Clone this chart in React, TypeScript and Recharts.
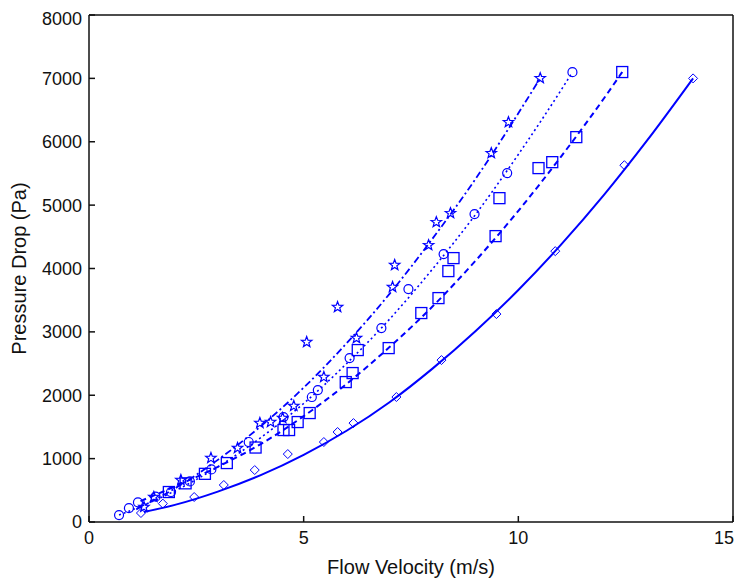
import React from "react";
import {
  ComposedChart,
  Line,
  Scatter,
  XAxis,
  YAxis,
} from "recharts";

// measured points (flow velocity m/s, pressure drop Pa)
const diamondPts = [
  { x: 1.21, y: 142 }, { x: 1.72, y: 290 }, { x: 2.45, y: 394 }, { x: 3.14, y: 584 },
  { x: 3.86, y: 820 }, { x: 4.63, y: 1072 }, { x: 5.47, y: 1262 }, { x: 5.79, y: 1420 },
  { x: 6.16, y: 1561 }, { x: 7.16, y: 1972 }, { x: 8.21, y: 2555 }, { x: 9.49, y: 3281 },
  { x: 10.86, y: 4274 }, { x: 12.47, y: 5630 }, { x: 14.07, y: 7000 },
];
const squarePts = [
  { x: 1.86, y: 473 }, { x: 2.25, y: 610 }, { x: 2.7, y: 760 }, { x: 3.21, y: 930 },
  { x: 3.88, y: 1175 }, { x: 4.53, y: 1451 }, { x: 4.66, y: 1451 }, { x: 4.86, y: 1577 },
  { x: 5.14, y: 1719 }, { x: 5.98, y: 2208 }, { x: 6.14, y: 2350 }, { x: 6.26, y: 2713 },
  { x: 6.98, y: 2744 }, { x: 7.74, y: 3297 }, { x: 8.14, y: 3533 }, { x: 8.37, y: 3959 },
  { x: 8.49, y: 4164 }, { x: 9.47, y: 4511 }, { x: 9.56, y: 5110 }, { x: 10.47, y: 5584 },
  { x: 10.79, y: 5678 }, { x: 11.35, y: 6073 }, { x: 12.42, y: 7100 },
];
const circlePts = [
  { x: 0.7, y: 110 }, { x: 0.93, y: 220 }, { x: 1.14, y: 310 }, { x: 1.55, y: 400 },
  { x: 1.91, y: 473 }, { x: 2.35, y: 640 }, { x: 2.85, y: 830 }, { x: 3.72, y: 1262 },
  { x: 4.53, y: 1656 }, { x: 5.19, y: 1972 }, { x: 5.33, y: 2082 }, { x: 6.07, y: 2587 },
  { x: 6.81, y: 3060 }, { x: 7.44, y: 3675 }, { x: 8.26, y: 4227 }, { x: 8.98, y: 4858 },
  { x: 9.74, y: 5505 }, { x: 11.26, y: 7098 },
];
const starPts = [
  { x: 1.28, y: 237 }, { x: 1.51, y: 394 }, { x: 2.14, y: 662 }, { x: 2.84, y: 1009 },
  { x: 3.46, y: 1167 }, { x: 3.98, y: 1561 }, { x: 4.23, y: 1577 }, { x: 4.51, y: 1640 },
  { x: 4.77, y: 1830 }, { x: 5.07, y: 2839 }, { x: 5.47, y: 2287 }, { x: 5.79, y: 3391 },
  { x: 6.23, y: 2902 }, { x: 7.07, y: 3707 }, { x: 7.12, y: 4054 }, { x: 7.91, y: 4369 },
  { x: 8.09, y: 4732 }, { x: 8.42, y: 4874 }, { x: 9.37, y: 5820 }, { x: 9.77, y: 6309 },
  { x: 10.51, y: 7003 },
];

// fitted curves
const solidFit = [
  { x: 1.28, y: 158 }, { x: 2, y: 270 }, { x: 3, y: 480 }, { x: 4, y: 740 },
  { x: 5, y: 1060 }, { x: 6, y: 1440 }, { x: 7, y: 1890 }, { x: 8, y: 2420 },
  { x: 9, y: 3010 }, { x: 10, y: 3660 }, { x: 11, y: 4380 }, { x: 12, y: 5165 },
  { x: 13, y: 6020 }, { x: 14.07, y: 7000 },
];
const dashedFit = [
  { x: 1.2, y: 330 }, { x: 2, y: 560 }, { x: 3, y: 870 }, { x: 4, y: 1230 },
  { x: 5, y: 1670 }, { x: 6, y: 2180 }, { x: 7, y: 2760 }, { x: 8, y: 3400 },
  { x: 9, y: 4120 }, { x: 10, y: 4910 }, { x: 11, y: 5770 }, { x: 12, y: 6690 },
  { x: 12.42, y: 7100 },
];
const dottedFit = [
  { x: 0.7, y: 110 }, { x: 1, y: 190 }, { x: 2, y: 490 }, { x: 3, y: 870 },
  { x: 4, y: 1330 }, { x: 5, y: 1870 }, { x: 6, y: 2500 }, { x: 7, y: 3200 },
  { x: 8, y: 3990 }, { x: 9, y: 4850 }, { x: 10, y: 5800 }, { x: 11, y: 6820 },
  { x: 11.26, y: 7098 },
];
const dashDotFit = [
  { x: 1.1, y: 200 }, { x: 2, y: 530 }, { x: 3, y: 980 }, { x: 4, y: 1510 },
  { x: 5, y: 2120 }, { x: 6, y: 2820 }, { x: 7, y: 3600 }, { x: 8, y: 4470 },
  { x: 9, y: 5410 }, { x: 10, y: 6450 }, { x: 10.51, y: 7003 },
];

const xTicks = [0, 5, 10, 15];
const yTicks = [0, 1000, 2000, 3000, 4000, 5000, 6000, 7000, 8000];

const BLUE = "#0000ff";
const FONT = "'Liberation Sans', Arial, sans-serif";
const W = 727;

const Diamond = ({ cx, cy }: any) => (
  <path d={`M${cx},${cy - 4.5}L${cx + 4.5},${cy}L${cx},${cy + 4.5}L${cx - 4.5},${cy}Z`} fill="none" stroke={BLUE} strokeWidth={1} />
);
const Square = ({ cx, cy }: any) => (
  <rect x={cx - 5.5} y={cy - 5.5} width={11} height={11} fill="none" stroke={BLUE} strokeWidth={1.3} />
);
const Circ = ({ cx, cy }: any) => <circle cx={cx} cy={cy} r={4.5} fill="none" stroke={BLUE} strokeWidth={1.2} />;
const Star = ({ cx, cy }: any) => {
  const pts: string[] = [];
  for (let i = 0; i < 10; i++) {
    const r = i % 2 === 0 ? 5.5 : 2.3;
    const a = -Math.PI / 2 + (i * Math.PI) / 5;
    pts.push(`${cx + r * Math.cos(a)},${cy + r * Math.sin(a)}`);
  }
  return <polygon points={pts.join(" ")} fill="none" stroke={BLUE} strokeWidth={1.2} />;
};

// last label would run past the page edge, so pin it to the right border
const XTick = ({ x, y, payload }: any) => {
  const last = payload.value === 15;
  return (
    <text
      x={last ? W - 1 : x}
      y={y}
      dy="0.71em"
      textAnchor={last ? "end" : "middle"}
      fill="#111"
      fontSize={18}
      fontFamily={FONT}
    >
      {payload.value}
    </text>
  );
};

const axisStroke = { stroke: "#111", strokeWidth: 1.5 };
const tickStyle = { fill: "#111", fontSize: 18, fontFamily: FONT };

export default function App() {
  return (
    <div style={{ width: W, height: 573, background: "#fff" }}>
      <ComposedChart width={W} height={573} margin={{ top: 6, right: 1, left: 0, bottom: 0 }}>
        <XAxis
          xAxisId="b"
          type="number"
          dataKey="x"
          domain={[0, 15]}
          ticks={xTicks}
          height={59}
          tickSize={-6}
          tickMargin={15}
          axisLine={axisStroke}
          tickLine={axisStroke}
          tick={<XTick />}
          label={{ value: "Flow Velocity (m/s)", position: "insideBottom", offset: 7, fill: "#111", fontSize: 20, fontFamily: FONT }}
        />
        <XAxis
          xAxisId="t"
          orientation="top"
          type="number"
          dataKey="x"
          domain={[0, 15]}
          ticks={xTicks}
          height={1}
          tickSize={-6}
          axisLine={axisStroke}
          tickLine={axisStroke}
          tickFormatter={() => ""}
        />
        <YAxis
          yAxisId="l"
          type="number"
          domain={[0, 8000]}
          ticks={yTicks}
          width={81}
          tickSize={-6}
          tickMargin={13}
          axisLine={axisStroke}
          tickLine={axisStroke}
          tick={tickStyle}
          label={{ value: "Pressure Drop (Pa)", angle: -90, position: "center", dx: -30, fill: "#111", fontSize: 20, fontFamily: FONT }}
        />
        <YAxis
          yAxisId="r"
          orientation="right"
          type="number"
          domain={[0, 8000]}
          ticks={yTicks}
          width={1}
          tickSize={-6}
          axisLine={axisStroke}
          tickLine={axisStroke}
          tickFormatter={() => ""}
        />
        <Line xAxisId="b" yAxisId="l" data={solidFit} dataKey="y" type="monotone" stroke={BLUE} strokeWidth={2} dot={false} isAnimationActive={false} />
        <Line xAxisId="b" yAxisId="l" data={dashedFit} dataKey="y" type="monotone" stroke={BLUE} strokeWidth={2} strokeDasharray="6 4" dot={false} isAnimationActive={false} />
        <Line xAxisId="b" yAxisId="l" data={dottedFit} dataKey="y" type="monotone" stroke={BLUE} strokeWidth={1.6} strokeDasharray="2 3" dot={false} isAnimationActive={false} />
        <Line xAxisId="b" yAxisId="l" data={dashDotFit} dataKey="y" type="monotone" stroke={BLUE} strokeWidth={1.8} strokeDasharray="7 3 2 3" dot={false} isAnimationActive={false} />
        <Scatter xAxisId="b" yAxisId="l" data={diamondPts} dataKey="y" shape={Diamond} isAnimationActive={false} />
        <Scatter xAxisId="b" yAxisId="l" data={squarePts} dataKey="y" shape={Square} isAnimationActive={false} />
        <Scatter xAxisId="b" yAxisId="l" data={circlePts} dataKey="y" shape={Circ} isAnimationActive={false} />
        <Scatter xAxisId="b" yAxisId="l" data={starPts} dataKey="y" shape={Star} isAnimationActive={false} />
      </ComposedChart>
    </div>
  );
}
